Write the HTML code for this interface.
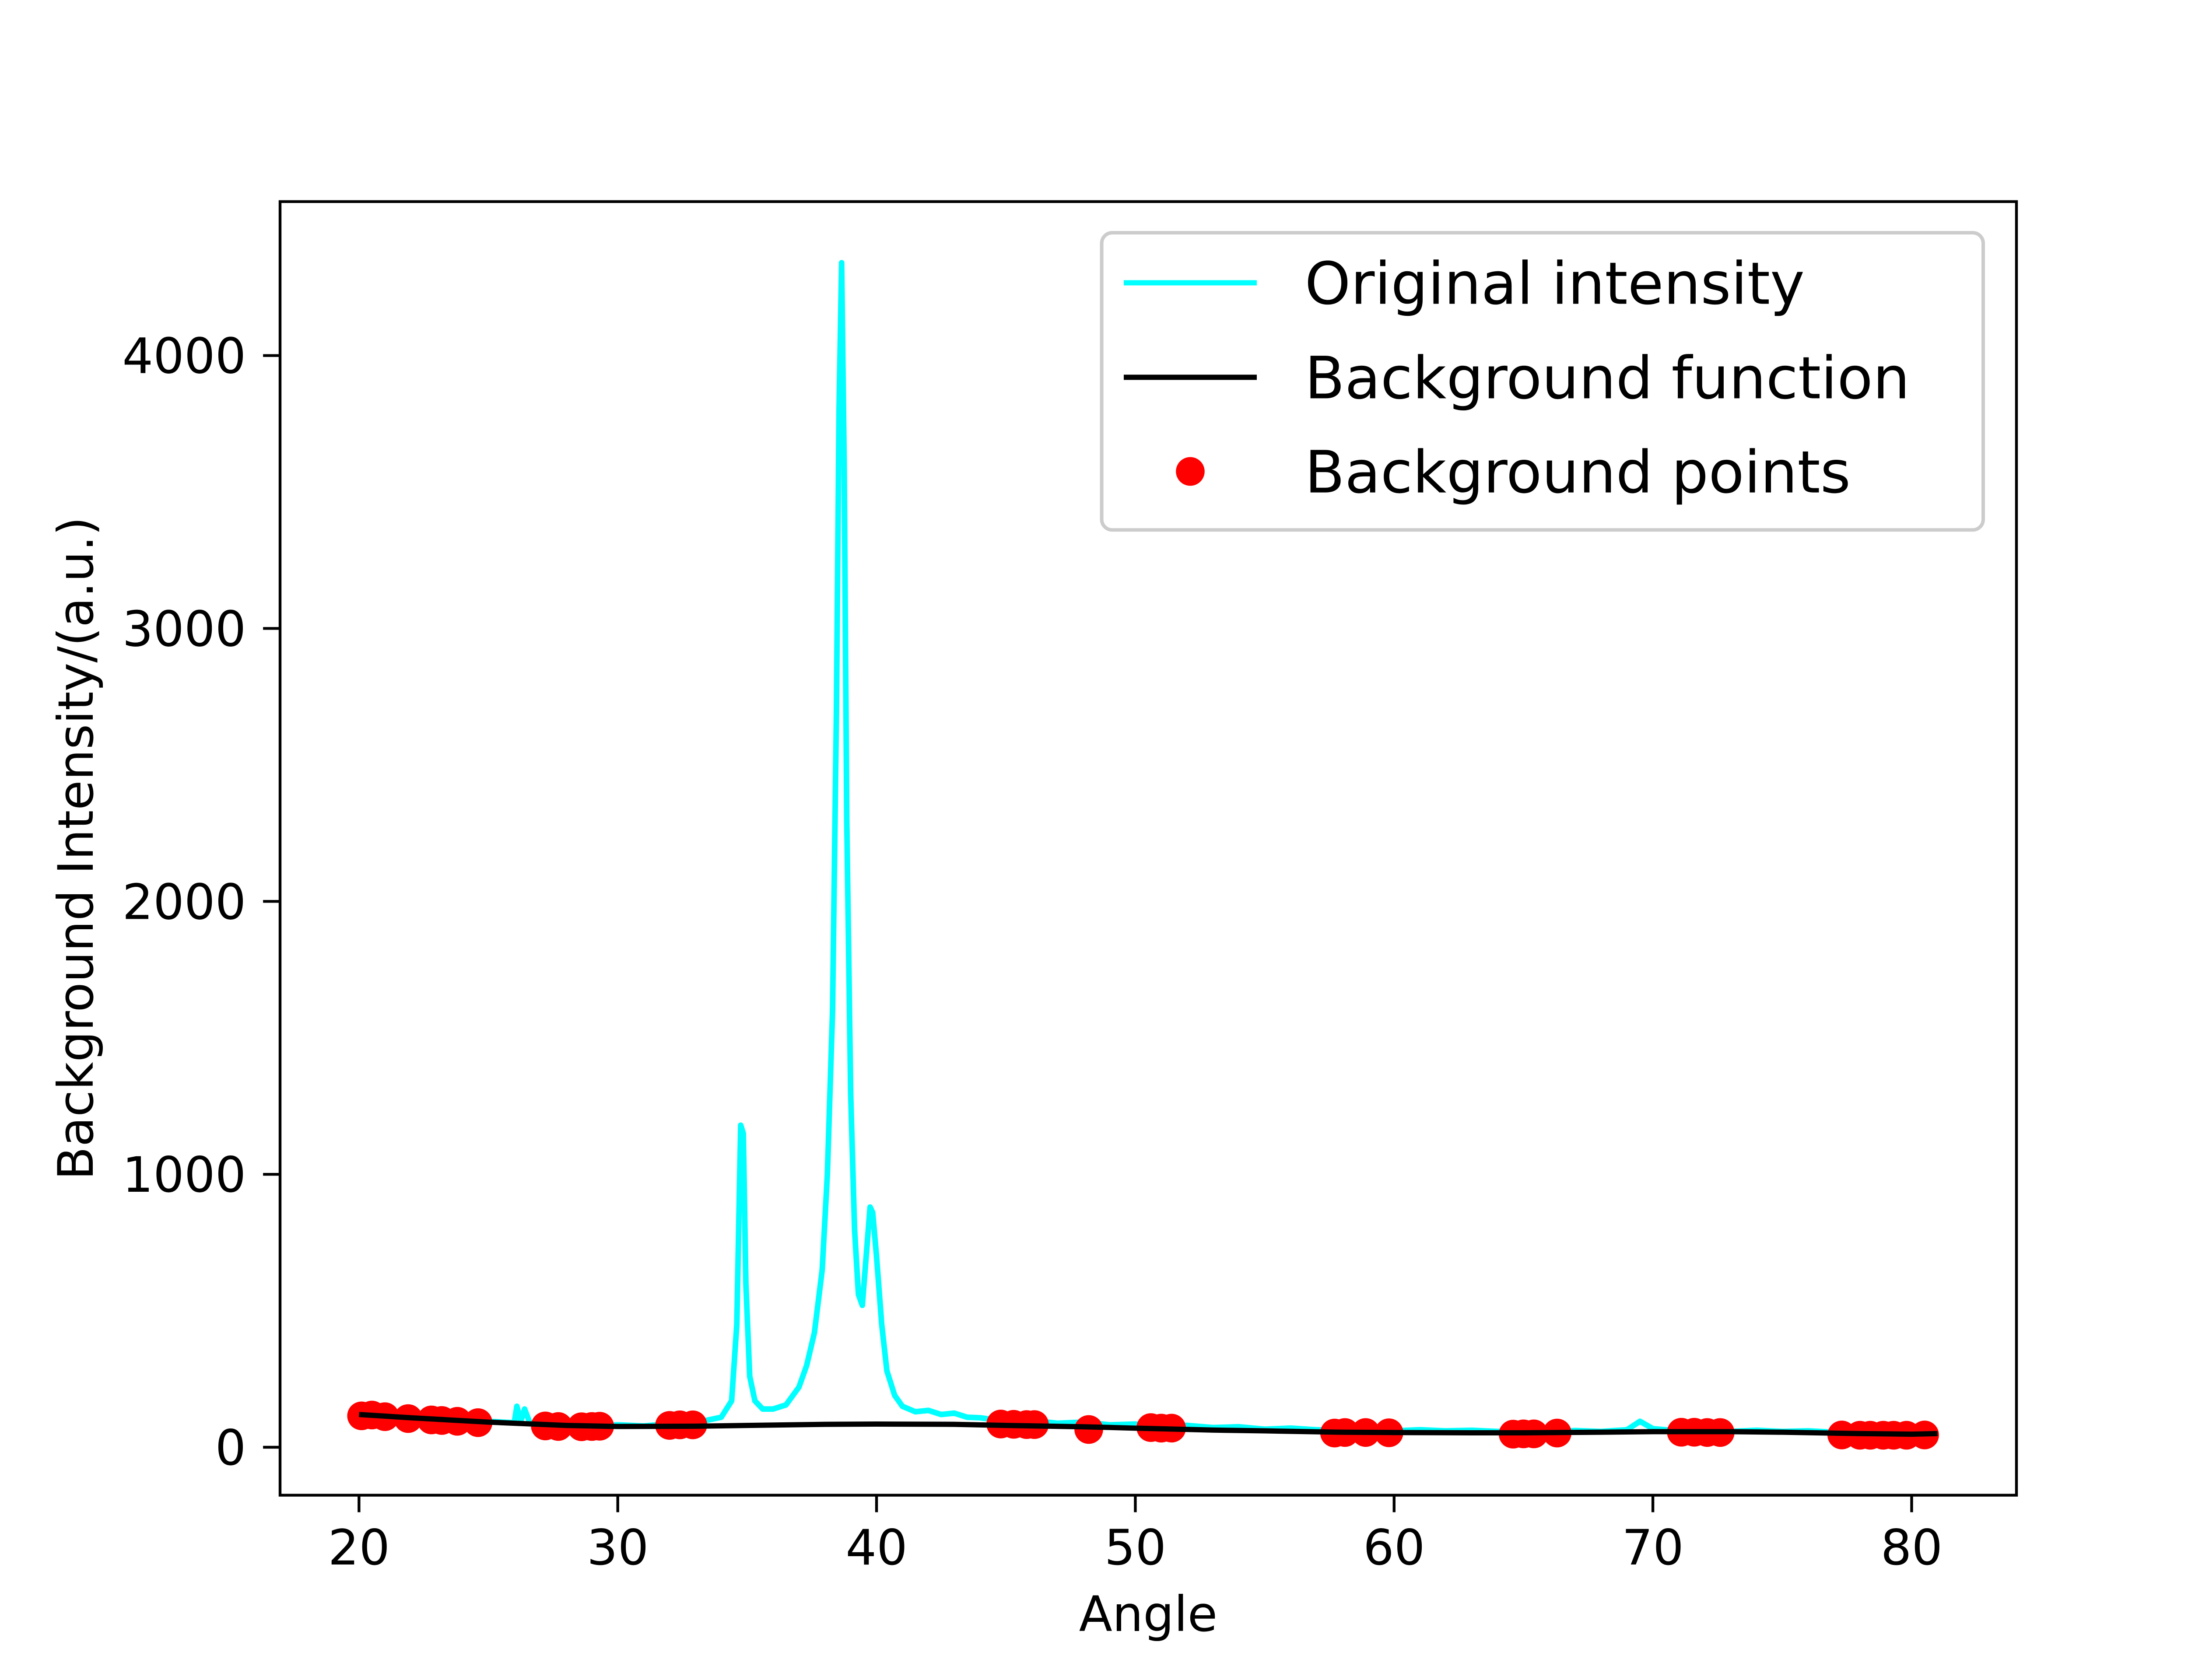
<!DOCTYPE html>
<html><head><meta charset="utf-8"><style>html,body{margin:0;padding:0;background:#fff}svg{display:block}</style></head>
<body>
<svg id="chart" width="5120" height="3840" viewBox="0 0 640 480" xmlns="http://www.w3.org/2000/svg" font-family="'DejaVu Sans','Liberation Sans',sans-serif">
<rect width="640" height="480" fill="#fff"/>
<g id="plot"></g>
<g id="axes"></g>
<g>
<rect x="314.7" y="66.5" width="251.8" height="84.9" rx="3" fill="#fff" fill-opacity="0.8" stroke="#ccc" stroke-width="1"/>
<line x1="321" y1="80.8" x2="359" y2="80.8" stroke="#00ffff" stroke-width="1.5"/>
<text x="372.7" y="86.8" font-size="16.67">Original intensity</text>
<line x1="321" y1="107.8" x2="359" y2="107.8" stroke="#000" stroke-width="1.5"/>
<text x="372.7" y="113.8" font-size="16.67">Background function</text>
<circle cx="340" cy="134.7" r="4.1" fill="#ff0000"/>
<text x="372.7" y="140.7" font-size="16.67">Background points</text>
</g>
<text x="328" y="466" font-size="13.9" text-anchor="middle">Angle</text>
<text transform="translate(26.5,242.4) rotate(-90)" font-size="13.9" text-anchor="middle">Background Intensity/(a.u.)</text>
<script>
const origX=[20,20.5,21,21.5,22,22.5,23,23.5,24,24.5,25,25.5,26,26.1,26.25,26.4,26.6,27,27.5,28,28.5,29,29.5,30,30.5,31,31.5,32,32.5,33,33.5,34,34.4,34.6,34.75,34.85,34.95,35.1,35.3,35.6,36,36.5,37,37.3,37.6,37.9,38.1,38.3,38.45,38.55,38.65,38.75,38.85,39,39.15,39.3,39.45,39.6,39.75,39.85,40,40.2,40.4,40.7,41,41.5,42,42.5,43,43.5,44,45,46,47,48,49,50,51,52,53,54,55,56,57,58,59,60,61,62,63,64,65,66,67,68,69,69.5,70,71,72,73,74,75,76,77,78,79,80,81];
const origY=[130,125,120,122,115,112,108,110,100,98,95,92,90,150,95,140,90,85,88,85,82,85,80,82,80,78,82,85,88,90,100,110,170,450,1180,1150,600,260,170,140,140,155,220,300,420,650,1000,1600,2700,3800,4340,3600,2300,1300,800,560,520,700,880,860,700,450,280,190,150,130,135,120,125,110,108,95,98,88,92,82,85,78,80,72,75,66,70,64,62,66,60,64,60,62,58,62,58,61,58,64,95,68,60,63,58,62,58,60,55,58,53,55,50];
const bgX=[20,22,25,28,30,33,35,38,40,43,45,48,50,53,55,58,60,63,65,68,70,73,75,78,80,81];
const bgY=[120,108,92,80,76,77,80,84,85,84,80,75,70,63,60,55,54,53,53,55,57,57,55,50,48,50];
const ptX=[20.1,20.5,21,21.9,22.8,23.2,23.8,24.6,27.2,27.7,28.6,29,29.3,32,32.4,32.9,44.8,45.3,45.8,46.1,48.2,50.6,51,51.4,57.7,58.1,58.9,59.8,64.6,65,65.4,66.3,71.1,71.6,72.1,72.6,77.3,78,78.4,78.9,79.3,79.8,80.5];
const ptY=[115,118,112,105,100,98,95,90,78,76,75,76,77,80,82,82,85,84,83,83,65,72,70,70,52,54,54,53,48,49,49,52,55,55,54,54,45,44,44,44,44,44,45];
const xTicks=[20,30,40,50,60,70,80];
const yTicks=[0,1000,2000,3000,4000];
const L=80,R=576,T=57.6,B=427.2,x0=16.95,x1=84.05,y0=-175.7,y1=4564;
const sx=v=>L+(v-x0)/(x1-x0)*(R-L);
const sy=v=>B-(v-y0)/(y1-y0)*(B-T);
const NS='http://www.w3.org/2000/svg';
const plot=document.getElementById('plot'),axes=document.getElementById('axes');
function mk(tag,attrs,parent){const e=document.createElementNS(NS,tag);for(const k in attrs)e.setAttribute(k,attrs[k]);parent.appendChild(e);return e;}
let d=origX.map((x,i)=>(i?'L':'M')+sx(x).toFixed(2)+','+sy(origY[i]).toFixed(2)).join('');
const ol=mk('path',{d:d,fill:'none',stroke:'#00ffff','stroke-width':1.6,'stroke-linejoin':'round'},plot);


ptX.forEach((x,i)=>{const c=mk('circle',{cx:sx(x),cy:sy(ptY[i]),r:4.1,fill:'#ff0000'},plot);

});
d=bgX.map((x,i)=>(i?'L':'M')+sx(x).toFixed(2)+','+sy(bgY[i]).toFixed(2)).join('');
const bl=mk('path',{d:d,fill:'none',stroke:'#000','stroke-width':1.5},plot);


const fr=mk('rect',{x:L,y:T,width:R-L,height:B-T,fill:'none',stroke:'#000','stroke-width':0.8},axes);


xTicks.forEach(v=>{const x=sx(v);mk('line',{x1:x,x2:x,y1:B,y2:B+4.86,stroke:'#000','stroke-width':0.8},axes);
const t=mk('text',{x:x,y:447,'font-size':13.9,'text-anchor':'middle'},axes);t.textContent=v;

});
yTicks.forEach(v=>{const y=sy(v);mk('line',{x1:L-4.86,x2:L,y1:y,y2:y,stroke:'#000','stroke-width':0.8},axes);
const t=mk('text',{x:70.3,y:y+5,'font-size':13.9,'text-anchor':'end'},axes);t.textContent=v;

});
</script>
</svg>
</body></html>
